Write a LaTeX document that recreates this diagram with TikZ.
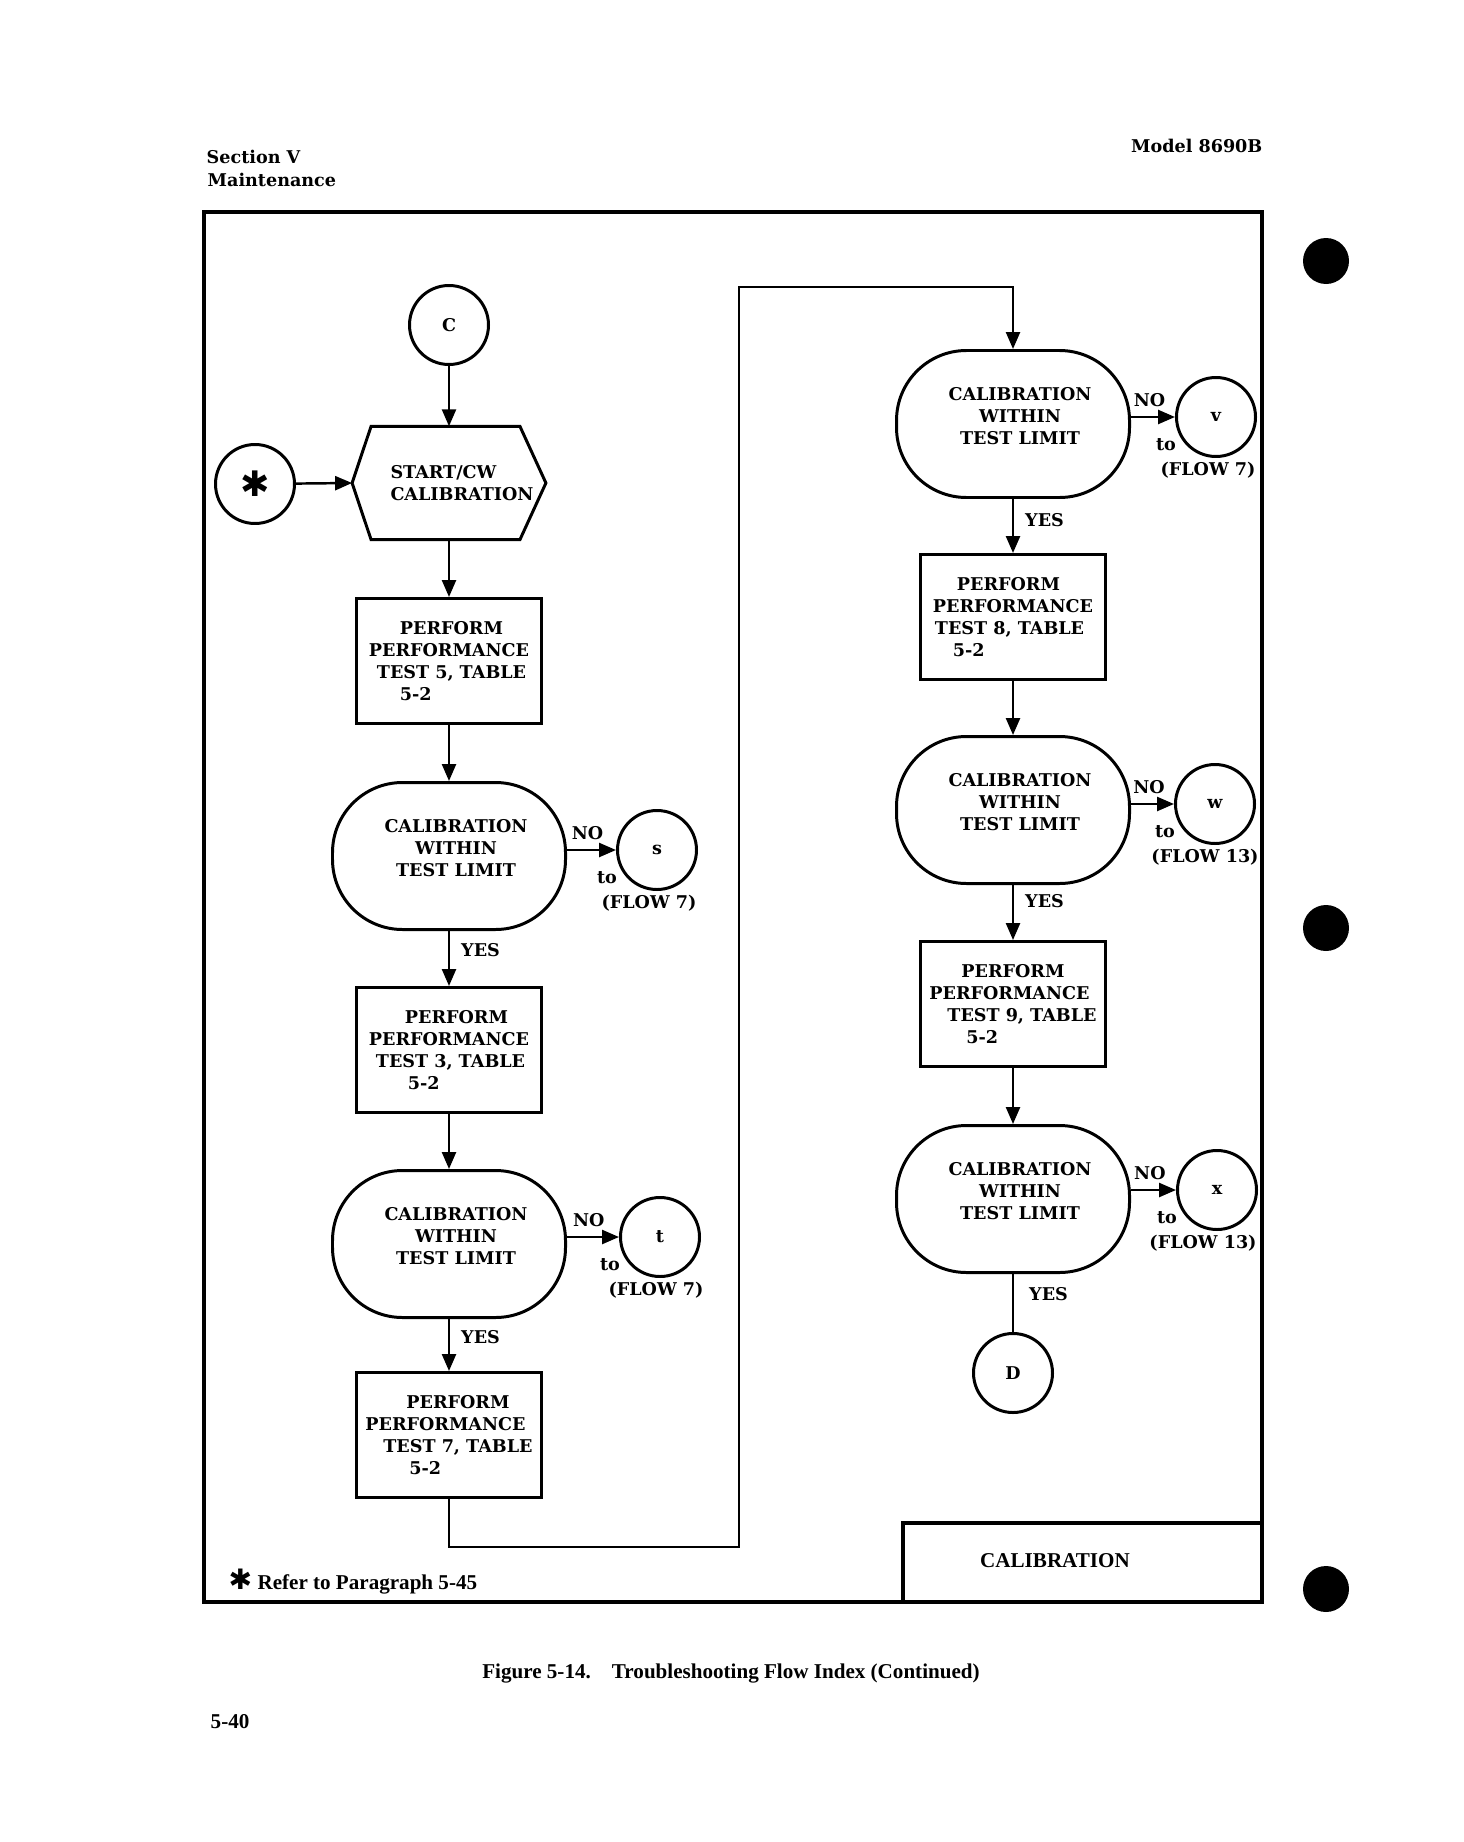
\documentclass[tikz,border=0pt]{standalone}
\usepackage{fontspec}
\setmainfont{DejaVu Serif}
\newfontfamily\capfont{Liberation Serif}
\newfontfamily\symfont{DejaVu Sans}
\usetikzlibrary{shapes.geometric, arrows.meta, positioning}

\begin{document}
\begin{tikzpicture}[
  every node/.style={font=\fontsize{5}{6.3}\selectfont\bfseries},
  box/.style={draw, line width=0.85pt, minimum width=1.85cm, minimum height=1.25cm, align=left, inner sep=1pt},
  decide/.style={draw, line width=0.85pt, rounded corners=7mm, minimum width=2.33cm, minimum height=1.47cm,
    label={[align=center, xshift=0.7mm, yshift=0.8mm]center:CALIBRATION\\WITHIN\\TEST LIMIT}},
  conn/.style={draw, circle, line width=0.85pt, minimum size=0.79cm, inner sep=0pt},
  flow/.style={-{Triangle[length=1.7mm, width=1.4mm]}, line width=0.7pt},
  lbl/.style={inner sep=0pt},
  capt/.style={font=\capfont\fontsize{6}{7}\selectfont\bfseries, inner sep=0pt}
]
\useasboundingbox (0,0) rectangle (14.63,-18.42);

% page header
\node[lbl, anchor=west] (sect) at (2.06,-1.57) {Section V};
\node[lbl, anchor=west] (maint) at (2.07,-1.80) {Maintenance};
\node[lbl, anchor=east] (model) at (12.63,-1.46) {Model 8690B};

% frame and punch holes
\draw[line width=1.1pt] (2.04,-2.12) rectangle (12.62,-16.02);
\foreach \y in {-2.61,-9.28,-15.89}
  \fill (13.26,\y) circle (0.23);

% left column
\node[conn] (c) at (4.49,-3.25) {C};
\node[minimum width=1.88cm, minimum height=1.12cm, align=left] (start) at (4.49,-4.83)
  {\hspace*{2.6mm}START/CW\\\hspace*{2.6mm}CALIBRATION};
\draw[line width=0.85pt] (start.west) -- ([xshift=1.9mm]start.north west) -- ([xshift=-2.6mm]start.north east)
  -- (start.east) -- ([xshift=-2.6mm]start.south east) -- ([xshift=1.9mm]start.south west) -- cycle;
\node[conn] (star) at (2.55,-4.84) {\symfont\fontsize{10}{10}\selectfont ✱};
\node[box] (perf5) at (4.49,-6.61) {\hspace*{3.1mm}PERFORM\\PERFORMANCE\\\hspace*{0.8mm}TEST 5, TABLE\\\hspace*{3.1mm}5-2};
\node[decide] (cal1) at (4.49,-8.56) {};
\node[conn] (s) at (6.57,-8.50) {s};
\node[box] (perf3) at (4.49,-10.50) {\hspace*{3.6mm}PERFORM\\PERFORMANCE\\\hspace*{0.7mm}TEST 3, TABLE\\\hspace*{3.9mm}5-2};
\node[decide] (cal2) at (4.49,-12.44) {};
\node[conn] (t) at (6.60,-12.37) {t};
\node[box] (perf7) at (4.49,-14.35) {\hspace*{4.1mm}PERFORM\\PERFORMANCE\\\hspace*{1.8mm}TEST 7, TABLE\\\hspace*{4.4mm}5-2};

% right column
\node[decide] (cal3) at (10.13,-4.24) {};
\node[conn] (v) at (12.16,-4.17) {v};
\node[box] (perf8) at (10.13,-6.17) {\hspace*{2.4mm}PERFORM\\PERFORMANCE\\\hspace*{0.2mm}TEST 8, TABLE\\\hspace*{2.0mm}5-2};
\node[decide] (cal4) at (10.13,-8.10) {};
\node[conn] (w) at (12.15,-8.04) {w};
\node[box] (perf9) at (10.13,-10.04) {\hspace*{3.2mm}PERFORM\\PERFORMANCE\\\hspace*{1.8mm}TEST 9, TABLE\\\hspace*{3.7mm}5-2};
\node[decide] (cal5) at (10.13,-11.99) {};
\node[conn] (x) at (12.17,-11.90) {x};
\node[conn] (d) at (10.13,-13.73) {D};
\coordinate (bend) at (7.39,-2.87);

% connectors
\draw[flow] (c) -- (start);
\draw[flow] (star) -- (start.west);
\draw[flow] (start) -- (perf5);
\draw[flow] (perf5) -- (cal1);
\draw[flow] (cal1) -- node[lbl, pos=0.35, right=1.1mm] {YES} (perf3);
\draw[flow] (perf3) -- (cal2);
\draw[flow] (cal2) -- node[lbl, pos=0.35, right=1.1mm] {YES} (perf7);
\draw[flow] (perf7.south) -- ++(0,-0.48) -| (bend) -| (cal3.north);
\draw[flow] (cal3) -- node[lbl, pos=0.4, right=1.1mm] {YES} (perf8);
\draw[flow] (perf8) -- (cal4);
\draw[flow] (cal4) -- node[lbl, pos=0.3, right=1.1mm] {YES} (perf9);
\draw[flow] (perf9) -- (cal5);
\draw[line width=0.7pt] (cal5) -- node[lbl, pos=0.35, right=1.5mm] {YES} (d);

% NO branches
\foreach \dec/\out/\fl/\dx in {cal1/s/7/-0.8, cal2/t/7/-0.4, cal3/v/7/-0.8, cal4/w/13/-1.0, cal5/x/13/-1.4}{
  \draw[flow] (\dec.east |- \out) -- node[lbl, pos=0.42, above=0.9mm] {NO} (\out);
  \node[lbl] at ([shift={(-0.50,-0.28)}]\out) {to};
  \node[lbl, below=0.3mm of \out, xshift=\dx mm] {(FLOW \fl)};
}

% footer
\node[capt, anchor=west] (note) at (2.28,-15.82) {{\symfont\fontsize{8}{8}\selectfont ✱} Refer to Paragraph 5-45};
\draw[line width=1pt] (9.03,-16.02) |- (12.62,-15.23);
\node[capt] (title) at (10.55,-15.61) {CALIBRATION};
\node[capt] (fig) at (7.31,-16.73) {Figure 5-14.\quad Troubleshooting Flow Index (Continued)};
\node[capt, anchor=west] (page) at (2.10,-17.22) {5-40};
\end{tikzpicture}
\end{document}
